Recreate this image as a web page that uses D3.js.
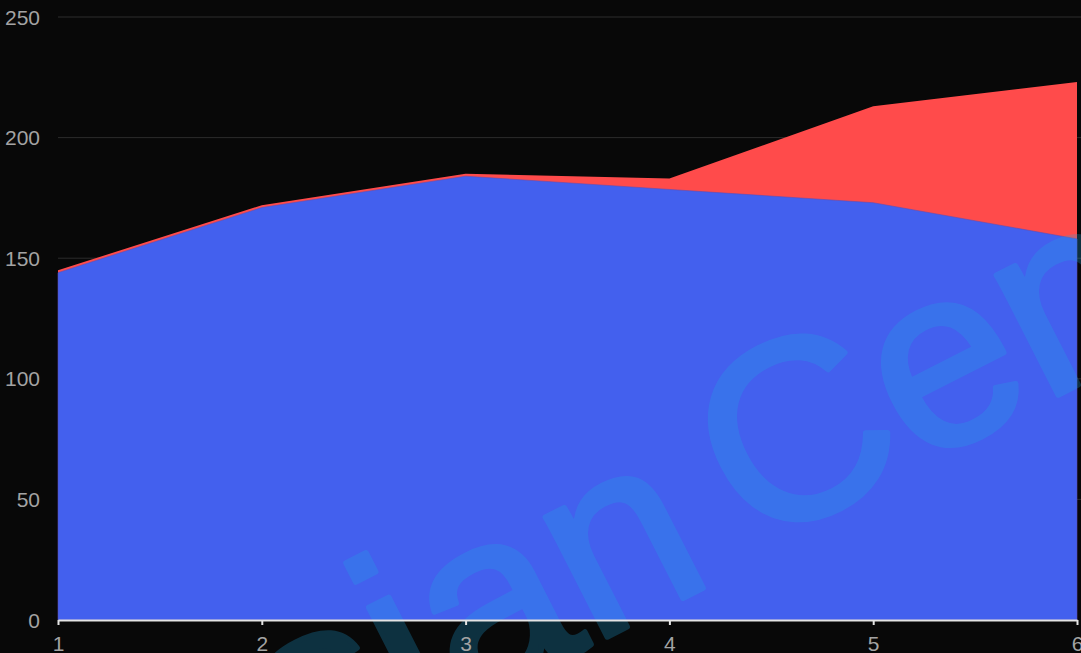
<!DOCTYPE html>
<html>
<head>
<meta charset="utf-8">
<script src="https://cdn.jsdelivr.net/npm/d3@7"></script>
<style>
  html, body { margin: 0; padding: 0; background: #080808; overflow: hidden; }
  svg { display: block; }
</style>
</head>
<body>
<svg id="chart" width="1081" height="653"></svg>
<script>
// Data
const categories = [1, 2, 3, 4, 5, 6];
const seriesA = [145, 172, 185, 183, 213, 223];   // red, drawn behind
const seriesB = [144, 171, 184, 178.5, 173, 158]; // blue, drawn in front
const yTicks = [0, 50, 100, 150, 200, 250];
const watermarkWords = ["Asian", " Center"];

const W = 1081, H = 653;
const margin = { top: 17, right: 4, bottom: 33, left: 58 };
const svg = d3.select("#chart");

svg.append("rect").attr("width", W).attr("height", H).attr("fill", "#080808");

const x = d3.scaleLinear()
  .domain(d3.extent(categories))
  .range([margin.left, W - margin.right]);
const y = d3.scaleLinear()
  .domain([0, 250])
  .range([H - margin.bottom, margin.top]);

// Horizontal gridlines
svg.append("g")
  .selectAll("line")
  .data(yTicks.filter(d => d > 0))
  .join("line")
  .attr("x1", margin.left)
  .attr("x2", W)
  .attr("y1", d => y(d))
  .attr("y2", d => y(d))
  .attr("stroke", "#2c2c2c")
  .attr("stroke-width", 1);

// Y tick labels
svg.append("g")
  .selectAll("text")
  .data(yTicks)
  .join("text")
  .attr("x", 40)
  .attr("y", d => y(d))
  .attr("dy", "0.36em")
  .attr("text-anchor", "end")
  .attr("fill", "#a3a3a3")
  .style("font-family", "'Liberation Sans', Arial, sans-serif")
  .style("font-size", "21px")
  .text(d => d);

// Areas
const area = vals => d3.area()
  .x((d, i) => x(categories[i]))
  .y0(y(0))
  .y1(d => y(d))(vals);

svg.append("path")
  .attr("d", area(seriesA))
  .attr("fill", "#ff4b4b");

svg.append("path")
  .attr("d", area(seriesB))
  .attr("fill", "#4360ee")
  .attr("stroke", "#5a4fb8")
  .attr("stroke-width", 0.6);

// Watermark
const wm = svg.append("g")
  .attr("transform", "translate(752,551) rotate(-27)")
  .attr("opacity", 0.25);
const wmText = wm.append("text")
  .attr("x", 0)
  .attr("y", 0)
  .attr("fill", "rgb(30,170,230)")
  .attr("stroke", "rgb(30,170,230)")
  .attr("stroke-width", 5.5)
  .attr("stroke-linejoin", "round")
  .style("font-family", "'Liberation Sans', Arial, sans-serif")
  .style("font-size", "255px");
wmText.append("tspan").attr("dx", 5).attr("dy", 11).text(watermarkWords[0]);
wmText.append("tspan").attr("dx", -27).attr("dy", -11).text(watermarkWords[1]);
const cPos = wmText.node().getStartPositionOfChar(watermarkWords[0].length + 1);
wmText.attr("x", -cPos.x);

// X axis
const xAxis = svg.append("g")
  .attr("transform", `translate(0,${y(0)})`)
  .call(d3.axisBottom(x).tickValues(categories).tickFormat(d3.format("d"))
    .tickSize(5).tickSizeOuter(0).tickPadding(11));
xAxis.select(".domain").attr("stroke", "#e4e4e4").attr("stroke-width", 2);
xAxis.selectAll(".tick line").attr("stroke", "#e4e4e4").attr("stroke-width", 2);
xAxis.selectAll(".tick text")
  .attr("fill", "#a3a3a3")
  .style("font-family", "'Liberation Sans', Arial, sans-serif")
  .style("font-size", "21px");
</script>
</body>
</html>
